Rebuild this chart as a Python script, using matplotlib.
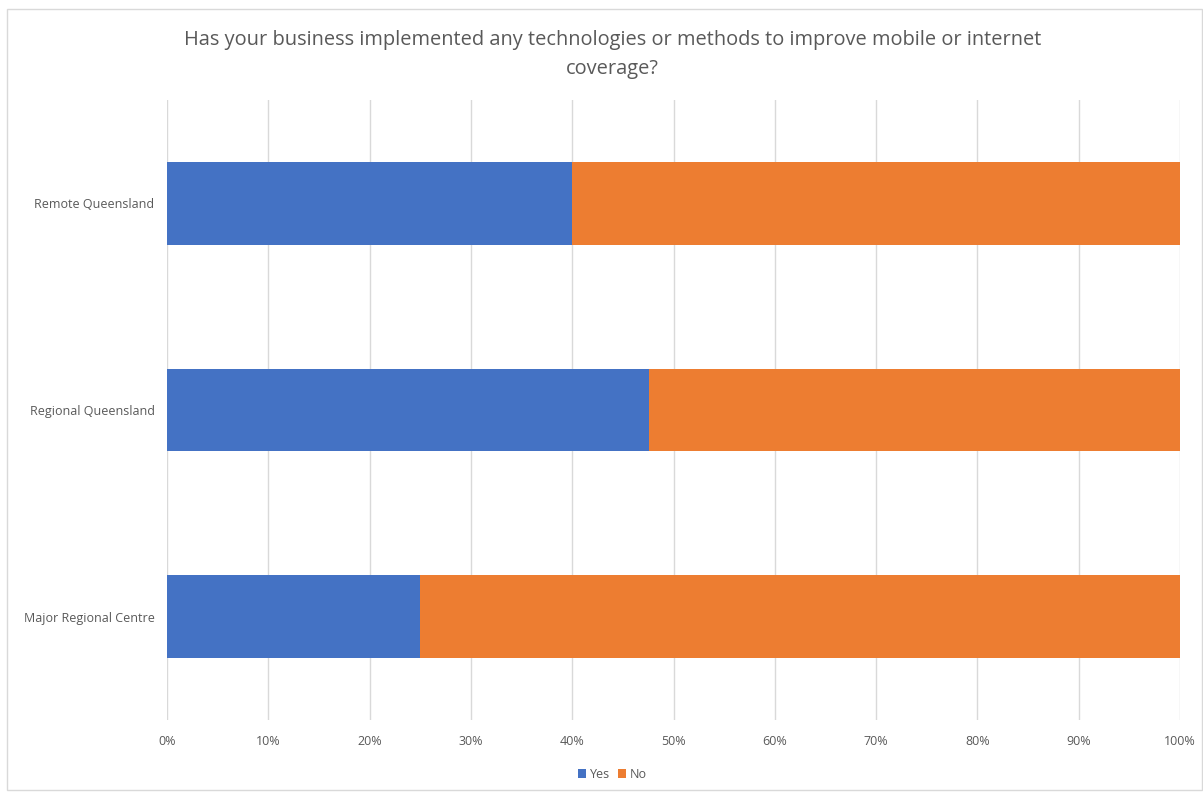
import matplotlib.pyplot as plt
from matplotlib.patches import Rectangle
import numpy as np

categories = ["Major Regional Centre", "Regional Queensland", "Remote Queensland"]
yes_pct = [25.0, 47.6, 40.0]
no_pct = [75.0, 52.4, 60.0]
ticks = [0, 10, 20, 30, 40, 50, 60, 70, 80, 90, 100]

blue = "#4472C4"
orange = "#ED7D31"
text_col = "#595959"

plt.rcParams["font.family"] = ["Open Sans", "DejaVu Sans"]

fig = plt.figure(figsize=(12.03, 7.92), dpi=100)
fig.patches.append(Rectangle((7 / 1203, 2 / 792), 1195 / 1203, 781 / 792,
                             transform=fig.transFigure, fill=False,
                             edgecolor="#d9d9d9", linewidth=1))

ax = fig.add_axes([167 / 1203, 72 / 792, 1013 / 1203, 620 / 792])
y = np.arange(len(categories))
ax.barh(y, yes_pct, height=0.4, color=blue, label="Yes", zorder=3)
ax.barh(y, no_pct, left=yes_pct, height=0.4, color=orange, label="No", zorder=3)

ax.set_xlim(0, 100)
ax.set_ylim(-0.5, 2.5)
ax.set_xticks(ticks)
ax.set_xticklabels([f"{t}%" for t in ticks])
ax.set_yticks(y)
ax.set_yticklabels(categories)
ax.tick_params(axis="both", length=0, labelsize=9, colors=text_col)
ax.tick_params(axis="x", pad=11)
ax.tick_params(axis="y", pad=9)
ax.grid(axis="x", color="#d9d9d9", linewidth=1, zorder=0)
for s in ax.spines.values():
    s.set_visible(False)

fig.text(0.509, 0.931,
         "Has your business implemented any technologies or methods to improve mobile or internet\ncoverage?",
         ha="center", va="center", fontsize=14.4, color=text_col, linespacing=1.6)

fig.legend(loc="center", bbox_to_anchor=(0.509, 0.022), ncol=2, frameon=False,
           fontsize=9, labelcolor=text_col, handlelength=0.7, handleheight=0.7,
           handletextpad=0.3, columnspacing=0.6)

fig.savefig("out.png", dpi=100)
